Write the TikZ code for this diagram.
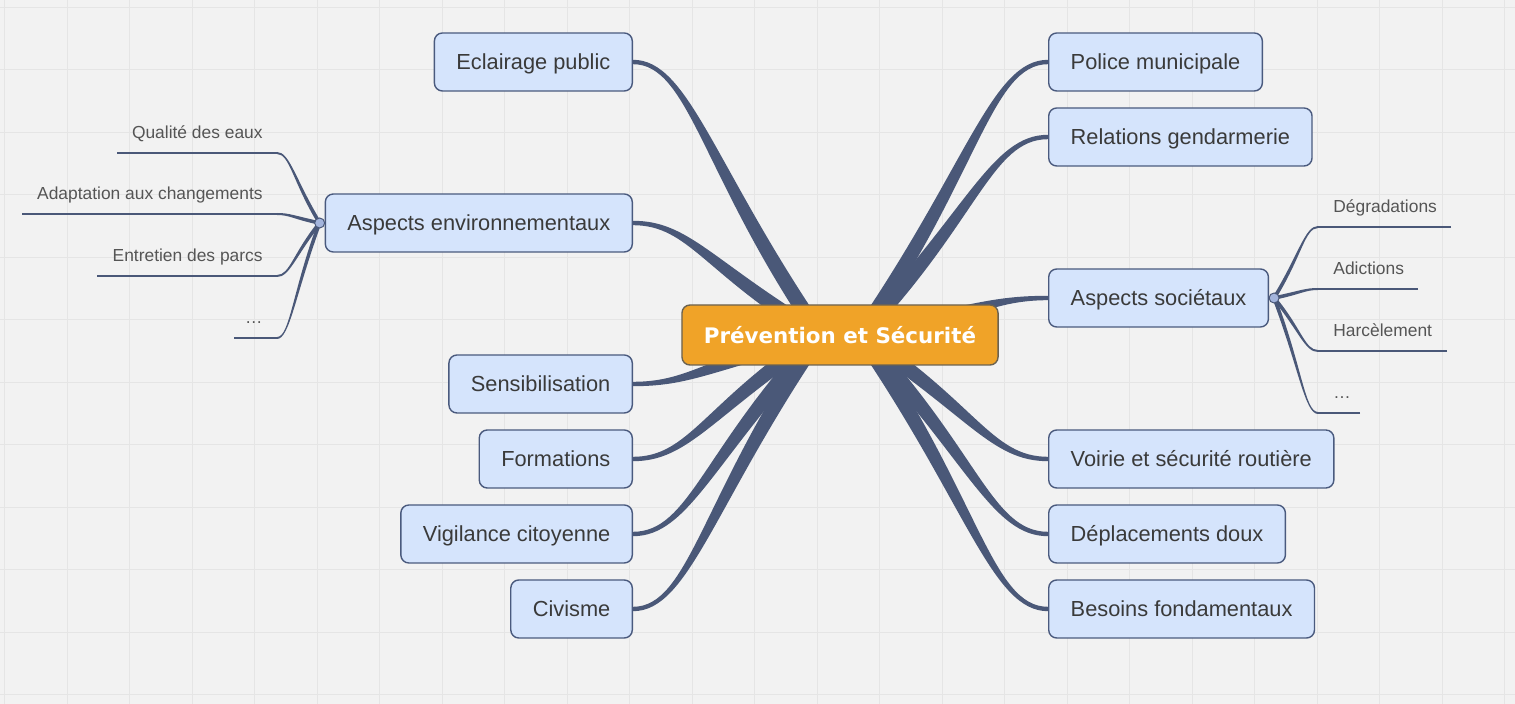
\documentclass[tikz,border=0pt]{standalone}
\usepackage{fontspec}
\setmainfont{Liberation Sans}
\newfontfamily\titlefont{DejaVu Sans}
\usetikzlibrary{positioning}
\usetikzlibrary{calc}
\usetikzlibrary{backgrounds}

\definecolor{bgcol}{HTML}{F2F2F2}
\definecolor{gridcol}{HTML}{E5E5E5}
\definecolor{nodefill}{HTML}{D5E4FC}
\definecolor{nodeline}{HTML}{4A5A7E}
\definecolor{branchcol}{HTML}{4A5878}
\definecolor{topiccol}{HTML}{F0A328}
\definecolor{topicline}{HTML}{6B6250}
\definecolor{textcol}{HTML}{3A3A3A}
\definecolor{subtext}{HTML}{555555}
\definecolor{hubcol}{HTML}{A3B4DC}

% tapered branch: #1 origin, #2 end, #3 half width at end, #4 half width at origin
\newcommand{\branch}[4]{%
  \path (#1) coordinate (o) (#2) coordinate (e) (e -| o) coordinate (eo);
  \path ($(e)!0.3!(eo)$) coordinate (c1) ($(o)!0.6!(e)$) coordinate (c2);
  \path ($(e)!#3!90:(c1)$) coordinate (e1) ($(e)!#3!-90:(c1)$) coordinate (e2)
        ($(o)!#4!-90:(c2)$) coordinate (o1) ($(o)!#4!90:(c2)$) coordinate (o2);
  \fill[branchcol] (e1) .. controls ($(c1)+(e1)-(e)$) and ($(c2)+(o1)-(o)$) .. (o1)
    -- (o2) .. controls ($(c2)+(o2)-(o)$) and ($(c1)+(e2)-(e)$) .. (e2) -- cycle;}

\begin{document}
\begin{tikzpicture}[x=0.5pt,y=-0.5pt,
  main node/.style={draw=nodeline,fill=nodefill,rounded corners=4pt,line width=0.7pt,minimum height=29pt,inner xsep=11pt,text height=7.5pt,text depth=0pt,text=textcol,font=\fontsize{10.9}{13}\selectfont},
  topic node/.style={draw=topicline,fill=topiccol,rounded corners=4pt,line width=0.7pt,minimum height=30pt,inner xsep=11pt,text=white,font=\titlefont\bfseries\fontsize{10.7}{13}\selectfont},
  sub node/.style={text=subtext,font=\fontsize{8.7}{10}\selectfont,inner sep=0pt},
  hub/.style={circle,draw=branchcol,fill=hubcol,line width=0.5pt,minimum size=5pt,inner sep=0pt},
  subline/.style={draw=branchcol,line width=1pt}]

  \useasboundingbox (0,0) rectangle (1515,704);

  \node[topic node] (topic) at (840,335) {Prévention et Sécurité};
  \coordinate (lo) at ([xshift=-10pt]topic.center);
  \coordinate (ro) at ([xshift=10pt]topic.center);

  % left
  \node[main node,anchor=east] (ecl) at (633,62) {Eclairage public};
  \node[main node,anchor=east] (env) at (633,223) {Aspects environnementaux};
  \node[main node,anchor=east] (sens) at (633,384) {Sensibilisation};
  \node[main node,anchor=east] (form) at (633,459) {Formations};
  \node[main node,anchor=east] (vig) at (633,534) {Vigilance citoyenne};
  \node[main node,anchor=east] (civ) at (633,609) {Civisme};

  % right
  \node[main node,anchor=west] (police) at (1048,62) {Police municipale};
  \node[main node,anchor=west] (gend) at (1048,137) {Relations gendarmerie};
  \node[main node,anchor=west] (soc) at (1048,298) {Aspects sociétaux};
  \node[main node,anchor=west] (voirie) at (1048,459) {Voirie et sécurité routière};
  \node[main node,anchor=west] (depl) at (1048,534) {Déplacements doux};
  \node[main node,anchor=west] (besoins) at (1048,609) {Besoins fondamentaux};

  % sub topics
  \node[hub] (envhub) at ([xshift=-2.5pt]env.west) {};
  \node[hub] (sochub) at ([xshift=2.5pt]soc.east) {};

  \foreach \n/\t/\xa/\y in {qual/Qualité des eaux/117/153, adapt/Adaptation aux changements/22/214,
      parcs/Entretien des parcs/97/276, etcg/\ldots/234/338}{
    \node[sub node,anchor=base east] (\n) at (263,\y-14) {\t};
    \coordinate (\n0) at (\xa,\y);
    \coordinate (\n1) at (277,\y);
  }
  \foreach \n/\t/\xb/\y in {degr/Dégradations/1451/227, adic/Adictions/1418/289,
      harc/Harcèlement/1447/351, etcd/\ldots/1360/413}{
    \node[sub node,anchor=base west] (\n) at (1333,\y-14) {\t};
    \coordinate (\n0) at (\xb,\y);
    \coordinate (\n1) at (1318,\y);
  }

  \begin{scope}[on background layer]
    \fill[bgcol] (0,0) rectangle (1515,704);
    \foreach \k in {0,...,24} \draw[gridcol,line width=0.5pt] ({4.5+62.5*\k},0) -- ++(0,704);
    \foreach \k in {0,...,11} \draw[gridcol,line width=0.5pt] (0,{7.5+62.5*\k}) -- ++(1515,0);

    \foreach \n in {ecl,env,sens,form,vig,civ} \branch{lo}{\n.east}{1.1pt}{3.8pt};
    \foreach \n in {police,gend,soc,voirie,depl,besoins} \branch{ro}{\n.west}{1.1pt}{3.8pt};

    \foreach \n in {qual,adapt,parcs,etcg} {
      \draw[subline] (\n0) -- (\n1);
      \branch{envhub}{\n1}{0.5pt}{0.9pt};
    }
    \foreach \n in {degr,adic,harc,etcd} {
      \draw[subline] (\n0) -- (\n1);
      \branch{sochub}{\n1}{0.5pt}{0.9pt};
    }
  \end{scope}
\end{tikzpicture}
\end{document}
